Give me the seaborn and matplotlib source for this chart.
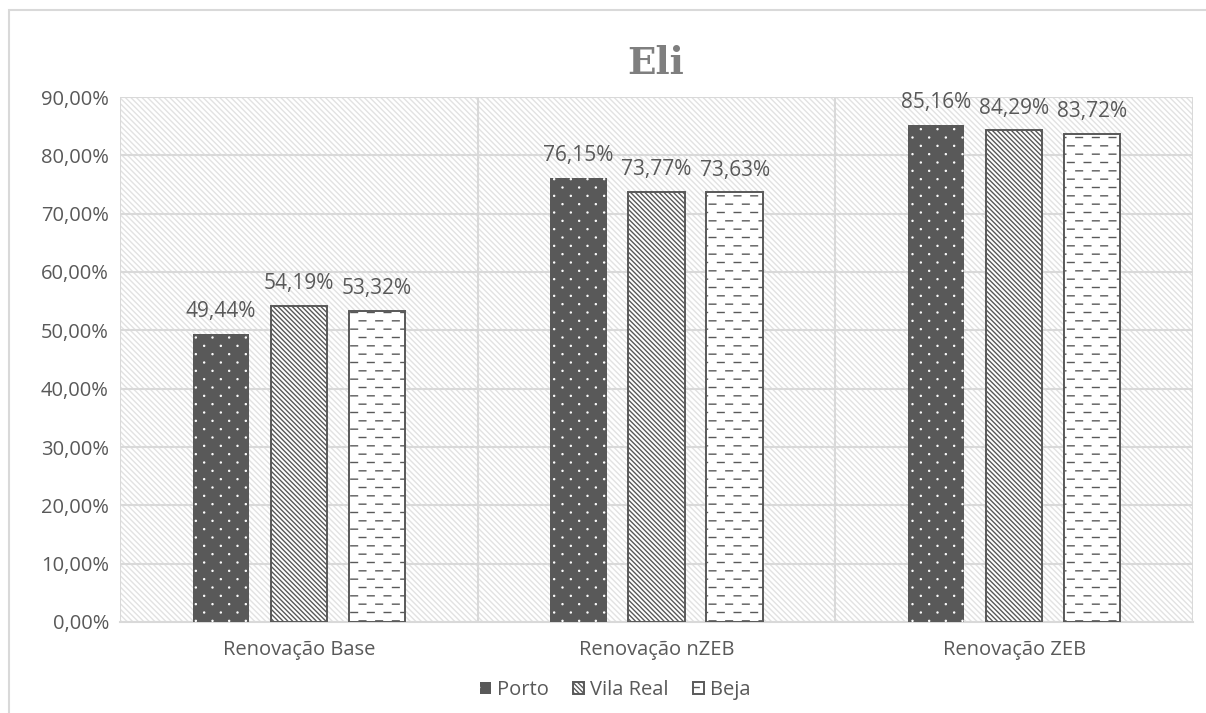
import numpy as np
import pandas as pd
import matplotlib
matplotlib.use("Agg")
import matplotlib.pyplot as plt
import matplotlib.hatch as mhatch
from matplotlib.path import Path
from matplotlib.patches import Patch, Rectangle
import seaborn as sns

# ---- data -------------------------------------------------------------
cenarios = ["Renovação Base", "Renovação nZEB", "Renovação ZEB"]
locais = ["Porto", "Vila Real", "Beja"]
porto = [49.44, 76.15, 85.16]
vila_real = [54.19, 73.77, 84.29]
beja = [53.32, 73.63, 83.72]
y_ticks = [0, 10, 20, 30, 40, 50, 60, 70, 80, 90]
titulo = "Eli"


# ---- custom hatch patterns -------------------------------------------
class DashedHorizontal(mhatch.HatchPatternBase):
    """'-' drawn as staggered short dashes."""

    def __init__(self, hatch, density):
        self.rows = int((hatch.count('-') + hatch.count('+')) * density)
        self.dashes = max(self.rows // 2, 1)
        self.num_vertices = self.rows * self.dashes * 2

    def set_vertices_and_codes(self, vertices, codes):
        period = 1.0 / self.dashes
        frac = 0.40
        k = 0
        for i in range(self.rows):
            y = (i + 0.5) / self.rows
            shift = 0.5 * period if i % 2 else 0.0
            for j in range(self.dashes):
                x0 = j * period + shift + 0.05 * period
                vertices[k] = (x0, y)
                vertices[k + 1] = (x0 + frac * period, y)
                codes[k] = Path.MOVETO
                codes[k + 1] = Path.LINETO
                k += 2


class StaggeredDots(mhatch.HatchPatternBase):
    """'.' drawn as a diagonal grid of small filled dots."""

    def __init__(self, hatch, density):
        self.rows = int(hatch.count('.') * density)
        self.cols = self.rows // 2
        circ = Path.unit_circle()
        self.sv = circ.vertices
        self.sc = circ.codes
        self.num_vertices = self.rows * self.cols * len(self.sv)

    def set_vertices_and_codes(self, vertices, codes):
        r = 0.005
        vparts, cparts = [], []
        for i in range(self.rows):
            y = (i + 0.5) / self.rows
            shift = 0.5 / self.cols if i % 2 else 0.0
            for j in range(self.cols):
                x = (j + 0.25) / self.cols + shift
                vparts.append(self.sv * r + [x, y])
                cparts.append(self.sc)
        np.concatenate(vparts, out=vertices)
        np.concatenate(cparts, out=codes)


mhatch._hatch_types = [
    DashedHorizontal if t is mhatch.HorizontalHatch else
    StaggeredDots if t is mhatch.SmallFilledCircles else t
    for t in mhatch._hatch_types
]

# ---- style ------------------------------------------------------------
sns.set_style("white")
plt.rcParams["font.family"] = ["Open Sans", "DejaVu Sans"]
plt.rcParams["hatch.linewidth"] = 1.0

TXT = "#595959"
GRID = "#d9d9d9"
DARK = "#595959"

df = pd.DataFrame({
    "cenario": np.repeat(cenarios, len(locais)),
    "local": locais * len(cenarios),
    "valor": np.ravel(np.column_stack([porto, vila_real, beja])),
})

fig = plt.figure(figsize=(12.06, 7.13), dpi=100)
ax = fig.add_axes([120 / 1206, 1 - 622 / 713, (1193 - 120) / 1206, (622 - 97) / 713])

sns.barplot(data=df, x="cenario", y="valor", hue="local", order=cenarios,
            hue_order=locais, palette=[DARK, "white", "white"],
            width=0.655, gap=0.28, errorbar=None, legend=False, ax=ax,
            zorder=3)

styles = {
    "Porto": dict(facecolor=DARK, edgecolor="white", hatch="..", linewidth=0),
    "Vila Real": dict(facecolor="white", edgecolor=DARK, hatch="\\" * 7, linewidth=1.4),
    "Beja": dict(facecolor="white", edgecolor=DARK, hatch="--", linewidth=1.4),
}

for cont, loc in zip(ax.containers, locais):
    for bar in cont:
        bar.set(**styles[loc])
    labels = [f"{v:.2f}%".replace(".", ",") for v in cont.datavalues]
    ax.bar_label(cont, labels=labels, padding=8.5, color=TXT, fontsize=15)

# plot-area background
ax.patch.set_facecolor("white")
ax.patch.set_hatch("\\" * 6)
ax.patch.set_edgecolor("#e2e2e2")

ax.set_ylim(0, 90)
ax.set_xlim(-0.5, len(cenarios) - 0.5)
ax.set_yticks(y_ticks)
ax.set_yticklabels([f"{t:.2f}%".replace(".", ",") for t in y_ticks])
ax.yaxis.grid(True, color=GRID, linewidth=1.5, zorder=1)
ax.set_axisbelow(True)

# category separators
ax.set_xticks(np.arange(-0.5, len(cenarios), 1.0), minor=True)
ax.xaxis.grid(True, which="minor", color=GRID, linewidth=1.5)
ax.tick_params(axis="x", which="minor", length=10, color=GRID, width=1.5)
ax.tick_params(axis="x", which="major", length=0, pad=13, labelsize=14.5,
               labelcolor=TXT)
ax.tick_params(axis="y", length=0, pad=8, labelsize=14.5, labelcolor=TXT)

for s in ["top", "right", "left"]:
    ax.spines[s].set_visible(False)
ax.spines["bottom"].set_color(GRID)
ax.spines["bottom"].set_linewidth(1.5)

ax.set_xlabel("")
ax.set_ylabel("")

fig.text(656 / 1206, 1 - 64 / 713, titulo, ha="center", va="center",
         fontsize=27, fontweight="bold", color="#7f7f7f", family="DejaVu Serif")

handles = [Patch(label=loc, **styles[loc]) for loc in locais]
leg = fig.legend(handles=handles, loc="center", bbox_to_anchor=(615 / 1206, 1 - 690 / 713),
                 ncol=3, frameon=False, fontsize=14.5, handlelength=0.55,
                 handleheight=0.55, handletextpad=0.3, columnspacing=1.2,
                 labelcolor=TXT)

# chart border
fig.patches.append(Rectangle((9 / 1206, -0.1), 1.2, 1 - 10 / 713 + 0.1,
                             transform=fig.transFigure, fill=False,
                             edgecolor=GRID, linewidth=1.5))

fig.savefig("out.png", dpi=100)
